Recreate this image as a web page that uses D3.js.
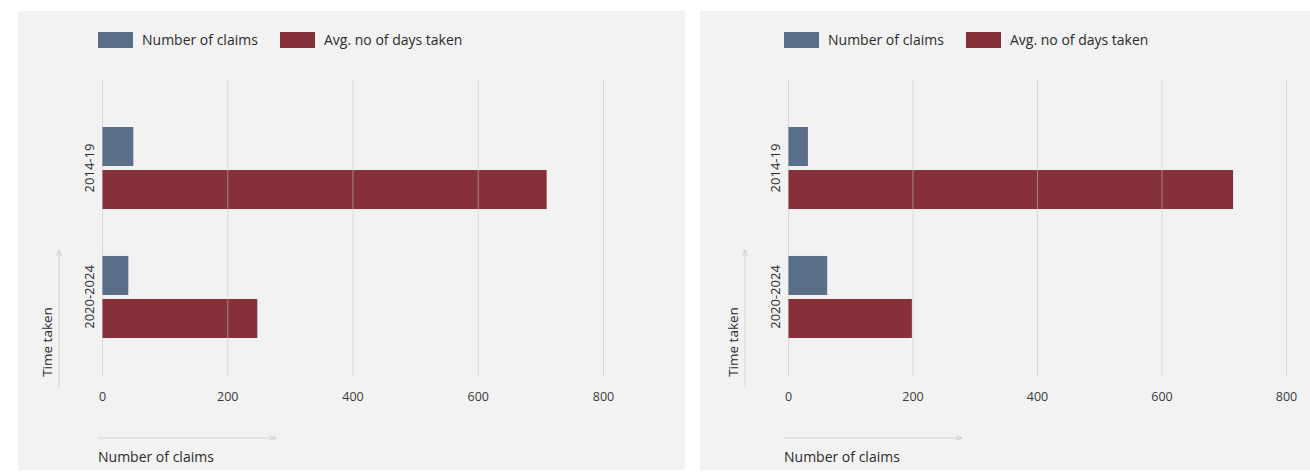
<!DOCTYPE html>
<html>
<head>
<meta charset="utf-8">
<script src="https://cdn.jsdelivr.net/npm/d3@7"></script>
<style>
  html, body { margin: 0; padding: 0; background: #ffffff; }
  svg { display: block; }
  text { font-family: "Open Sans", "Noto Sans", sans-serif; fill: #2b2b2b; }
</style>
</head>
<body>
<svg id="chart" width="1310" height="473"></svg>
<script>
// Claim processing: number of claims vs. average days taken, by period
const periods = ["2014-19", "2020-2024"];
const seriesKeys = ["claims", "days"];
const seriesLabels = ["Number of claims", "Avg. no of days taken"];
const seriesColors = ["#5b6e89", "#86313a"];

// Left panel values
const claimsLeft = [50, 42];
const daysLeft = [710, 248];

// Right panel values
const claimsRight = [32, 63];
const daysRight = [715, 199];

const tickValues = [0, 200, 400, 600, 800];
const xAxisTitle = "Number of claims";
const yAxisTitle = "Time taken";

const svg = d3.select("#chart");

const defs = svg.append("defs");
defs.append("marker")
  .attr("id", "arrowhead")
  .attr("viewBox", "0 0 10 10")
  .attr("refX", 9).attr("refY", 5)
  .attr("markerWidth", 7).attr("markerHeight", 7)
  .attr("orient", "auto")
  .append("path")
  .attr("d", "M0,1.5 L9,5 L0,8.5")
  .attr("fill", "none")
  .attr("stroke", "#c8c8c8")
  .attr("stroke-width", 1.2);

const panels = [
  { x0: 18, x1: 685, zero: 102, full: 603, claims: claimsLeft, days: daysLeft },
  { x0: 700, x1: 1310, zero: 788, full: 1286, claims: claimsRight, days: daysRight }
];

panels.forEach(p => {
  const off = p.zero - 102;
  const g = svg.append("g");

  // panel background
  g.append("rect")
    .attr("x", p.x0).attr("y", 11)
    .attr("width", p.x1 - p.x0).attr("height", 459)
    .attr("fill", "#f2f2f2");

  const x = d3.scaleLinear().domain([0, 800]).range([p.zero, p.full]);
  const y = d3.scaleBand().domain(periods).range([98, 367])
    .paddingInner(0.364).paddingOuter(0.225);
  const ySub = d3.scaleBand().domain(seriesKeys).range([0, y.bandwidth()])
    .paddingInner(0.093);

  const rows = periods.map((period, i) => ({
    period,
    values: [
      { key: "claims", value: p.claims[i] },
      { key: "days", value: p.days[i] }
    ]
  }));

  // bars
  const groups = g.selectAll("g.period").data(rows).join("g")
    .attr("class", "period")
    .attr("transform", d => `translate(0,${y(d.period)})`);
  groups.selectAll("rect").data(d => d.values).join("rect")
    .attr("x", x(0))
    .attr("y", d => ySub(d.key))
    .attr("width", d => x(d.value) - x(0))
    .attr("height", ySub.bandwidth())
    .attr("fill", d => seriesColors[seriesKeys.indexOf(d.key)]);

  // vertical gridlines drawn over the bars
  const xAxis = d3.axisBottom(x).tickValues(tickValues).tickSize(-(377 - 80)).tickPadding(14);
  const ax = g.append("g").attr("transform", "translate(0,377)").call(xAxis);
  ax.select(".domain").remove();
  ax.selectAll(".tick line").attr("stroke", "#c4c4c4").attr("stroke-opacity", 0.55);
  ax.selectAll(".tick text")
    .style("font-size", "12.5px").style("fill", "#3a3a3a")
    .style("font-family", "\"Open Sans\", sans-serif")
    .attr("dy", "0.32em").attr("y", 20);

  // period labels, rotated
  g.selectAll("text.period").data(periods).join("text")
    .attr("class", "period")
    .attr("transform", d => `translate(${94 + off},${y(d) + y.bandwidth() / 2}) rotate(-90)`)
    .attr("text-anchor", "middle")
    .style("font-size", "13px")
    .text(d => d);

  // y axis title with arrow
  g.append("text")
    .attr("transform", `translate(${52 + off},342) rotate(-90)`)
    .attr("text-anchor", "middle")
    .style("font-size", "13.5px")
    .text(yAxisTitle);
  g.append("line")
    .attr("x1", 59 + off).attr("y1", 387)
    .attr("x2", 59 + off).attr("y2", 250)
    .attr("stroke", "#d2d2d2").attr("stroke-width", 1)
    .attr("marker-end", "url(#arrowhead)");

  // x axis title with arrow
  g.append("line")
    .attr("x1", 98 + off).attr("y1", 438)
    .attr("x2", 276 + off).attr("y2", 438)
    .attr("stroke", "#d2d2d2").attr("stroke-width", 1)
    .attr("marker-end", "url(#arrowhead)");
  g.append("text")
    .attr("x", 98 + off).attr("y", 462)
    .style("font-size", "14px")
    .text(xAxisTitle);

  // legend
  const legendX = [98, 280];
  const lg = g.selectAll("g.legend").data(seriesLabels).join("g")
    .attr("class", "legend")
    .attr("transform", (d, i) => `translate(${legendX[i] + off},32)`);
  lg.append("rect").attr("width", 35).attr("height", 16)
    .attr("fill", (d, i) => seriesColors[i]);
  lg.append("text").attr("x", 44).attr("y", 8).attr("dy", "0.35em")
    .style("font-size", "14px")
    .text(d => d);
});
</script>
</body>
</html>
